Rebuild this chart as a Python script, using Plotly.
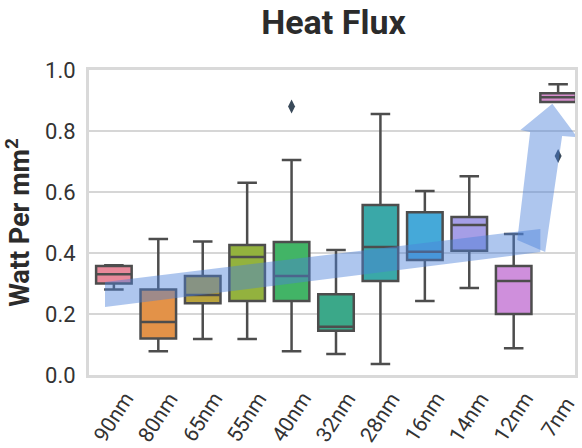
import plotly.graph_objects as go

categories = ["90nm", "80nm", "65nm", "55nm", "40nm", "32nm", "28nm", "16nm", "14nm", "12nm", "7nm"]
lower = [0.28, 0.078, 0.118, 0.118, 0.078, 0.069, 0.036, 0.243, 0.285, 0.088, 0.895]
q1 = [0.300, 0.120, 0.235, 0.243, 0.243, 0.145, 0.308, 0.377, 0.407, 0.200, 0.895]
median = [0.330, 0.174, 0.262, 0.387, 0.325, 0.158, 0.420, 0.404, 0.492, 0.308, 0.911]
q3 = [0.357, 0.280, 0.325, 0.426, 0.436, 0.265, 0.557, 0.534, 0.518, 0.357, 0.924]
upper = [0.360, 0.446, 0.438, 0.630, 0.705, 0.410, 0.856, 0.603, 0.652, 0.462, 0.953]
outlier_cat = [4, 10]
outlier_val = [0.880, 0.718]
colors = ["#e8899a", "#e39248", "#b8a23c", "#93b23e", "#42b466", "#3ba889",
          "#3aa8a8", "#45a9d9", "#a59ee6", "#cf8fdc", "#d68ccc"]
yticks = [0.0, 0.2, 0.4, 0.6, 0.8, 1.0]

# trend arrow outline (data coordinates: category index, value)
band_x = [-0.2, -0.2, 9.6, 9.6]
band_y = [0.223, 0.305, 0.479, 0.403]
arrow_x = [9.08, 9.37, 9.15, 9.87, 10.43, 10.09, 9.71]
arrow_y = [0.443, 0.797, 0.803, 0.889, 0.780, 0.784, 0.403]

FONT = "Roboto, Liberation Sans, sans-serif"
LINE = "#4d4d4d"

fig = go.Figure()
for i, c in enumerate(categories):
    fig.add_trace(go.Box(
        x=[i], q1=[q1[i]], median=[median[i]], q3=[q3[i]],
        lowerfence=[lower[i]], upperfence=[upper[i]],
        fillcolor=colors[i], line=dict(color=LINE, width=2.5),
        width=0.8, whiskerwidth=0.55, boxpoints=False, name=c,
        showlegend=False, hoverinfo="skip"))

fig.add_trace(go.Scatter(
    x=outlier_cat, y=outlier_val, mode="markers",
    marker=dict(symbol="diamond-tall", size=10, color="#3a4a5a"),
    showlegend=False, hoverinfo="skip"))

def path(xs, ys):
    pts = [f"{x},{y}" for x, y in zip(xs, ys)]
    return "M " + " L ".join(pts) + " Z"

for xs, ys in [(band_x, band_y), (arrow_x, arrow_y)]:
    fig.add_shape(type="path", xref="x", yref="y", path=path(xs, ys),
                  fillcolor="rgba(75,128,218,0.45)", line=dict(width=0),
                  layer="above")

for i, c in enumerate(categories):
    fig.add_annotation(x=i, y=-0.138, xref="x", yref="paper", text=c,
                       showarrow=False, textangle=-57,
                       xanchor="center", yanchor="middle",
                       font=dict(family=FONT, size=21, color="#333333"))

fig.update_layout(
    width=582, height=448,
    margin=dict(l=89, r=4, t=70, b=73),
    paper_bgcolor="white", plot_bgcolor="white",
    title=dict(text="<b>Heat Flux</b>", x=0.573, xanchor="center", y=0.95, yanchor="middle",
               font=dict(family=FONT, size=34, color="#2b2b2b")),
    font=dict(family=FONT, color="#333333"),
    boxmode="overlay",
)
fig.update_xaxes(range=[-0.56, 10.38], showticklabels=False, showgrid=False,
                 zeroline=False, showline=True, mirror=True,
                 linecolor="#d9d9d9", linewidth=3, ticks="")
fig.update_yaxes(range=[0, 1.0], tickvals=yticks, ticktext=[f"{v:.1f}" for v in yticks],
                 tickfont=dict(family=FONT, size=22, color="#333333"),
                 showgrid=True, gridcolor="#d6d6d6", gridwidth=2,
                 zeroline=False, showline=True, mirror=True,
                 linecolor="#d9d9d9", linewidth=3, ticks="", ticklabelstandoff=6,
                 title=dict(text="<b>Watt Per mm<sup>2</sup></b>", standoff=8,
                            font=dict(family=FONT, size=27, color="#2b2b2b")))

fig.write_html("out.html", config={"displayModeBar": False},
               post_script="document.body.style.margin='0';")
